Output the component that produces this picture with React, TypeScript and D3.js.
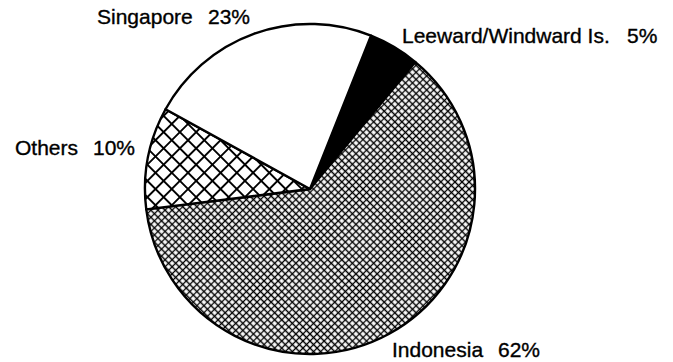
import React from "react";
import * as d3 from "d3";

const categories = ["Leeward/Windward Is.", "Indonesia", "Others", "Singapore"];
const values = [5, 62, 10, 23];
const pctLabels = ["5%", "62%", "10%", "23%"];
const fills = ["#000", "url(#fineHatch)", "url(#coarseHatch)", "#fff"];

const W = 673;
const H = 362;
const cx = 310;
const cy = 189;
const R = 165;
const startDeg = 21.7;

// label positions (name x, pct x, baseline y)
const labelPos = [
  { nx: 402, px: 627, y: 43 },
  { nx: 392, px: 498, y: 357 },
  { nx: 15, px: 93, y: 155 },
  { nx: 97, px: 208, y: 24 },
];

export default function App() {
  const start = (startDeg * Math.PI) / 180;
  const pie = d3
    .pie<number>()
    .sort(null)
    .startAngle(start)
    .endAngle(start + 2 * Math.PI)
    .value((d) => d);
  const arcs = pie(values);
  const arc = d3.arc<d3.PieArcDatum<number>>().innerRadius(0).outerRadius(R);
  const font = "'Liberation Sans', Arial, Helvetica, sans-serif";
  const dc = 11.5;
  const df = 5;
  return (
    <svg
      width={W}
      height={H}
      style={{ position: "absolute", left: 0, top: 0, background: "#fff" }}
    >
      <defs>
        <pattern
          id="coarseHatch"
          patternUnits="userSpaceOnUse"
          width={dc}
          height={dc}
          patternTransform="rotate(45)"
        >
          <rect width={dc} height={dc} fill="#fff" />
          <path
            d={`M0,${dc / 2}H${dc}M${dc / 2},0V${dc}`}
            stroke="#000"
            strokeWidth={1.9}
          />
        </pattern>
        <pattern
          id="fineHatch"
          patternUnits="userSpaceOnUse"
          width={df}
          height={df}
          patternTransform="rotate(45)"
        >
          <rect width={df} height={df} fill="#fff" />
          <path
            d={`M0,${df / 2}H${df}M${df / 2},0V${df}`}
            stroke="#000"
            strokeWidth={1.3}
          />
        </pattern>
      </defs>
      <rect width={W} height={H} fill="#fff" />
      <g transform={`translate(${cx},${cy})`}>
        {arcs.map((a, i) => (
          <path
            key={categories[i]}
            d={arc(a) || ""}
            fill={fills[i]}
            stroke="#000"
            strokeWidth={2.4}
            strokeLinejoin="round"
          />
        ))}
      </g>
      {categories.map((c, i) => (
        <g
          key={c}
          fontFamily={font}
          fontSize={21}
          fill="#000"
          stroke="#000"
          strokeWidth={0.35}
        >
          <text x={labelPos[i].nx} y={labelPos[i].y}>
            {c}
          </text>
          <text x={labelPos[i].px} y={labelPos[i].y}>
            {pctLabels[i]}
          </text>
        </g>
      ))}
    </svg>
  );
}
